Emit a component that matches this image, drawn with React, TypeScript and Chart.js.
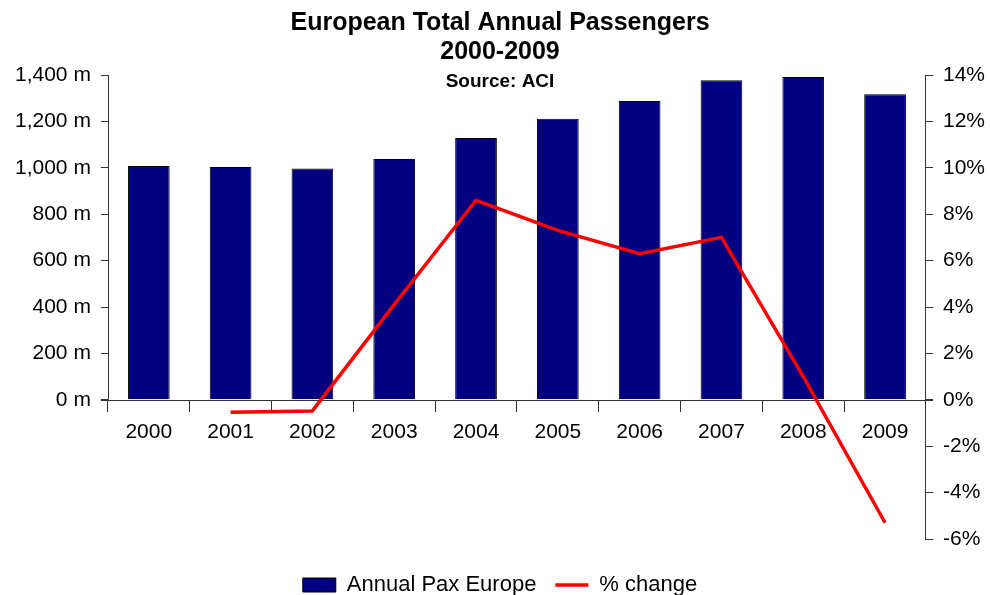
import React, { useEffect, useRef } from 'react';
import { Chart, registerables } from 'chart.js';

Chart.register(...registerables);

const years = ['2000', '2001', '2002', '2003', '2004', '2005', '2006', '2007', '2008', '2009'];
const annualPax = [1008, 1003, 997, 1038, 1128, 1211, 1288, 1377, 1391, 1317];
const pctChange = [null, -0.54, -0.48, 4.1, 8.6, 7.3, 6.3, 7.0, 1.0, -5.3];
const titleLines = ['European Total Annual Passengers', '2000-2009'];
const subtitleText = 'Source: ACI';
const seriesNames = ['Annual Pax Europe', '% change'];

const FONT = '"Liberation Sans", Arial, Helvetica, sans-serif';
const AXIS = '#333333';

const axisLines = {
  id: 'axisLines',
  beforeDatasetsDraw(chart: any) {
    const s = chart.scales.yL;
    const r = chart.scales.yR;
    const ctx = chart.ctx;
    const { left, right } = chart.chartArea;
    const x = Math.round(left) + 0.5;
    const y0 = Math.round(r.getPixelForValue(0)) + 0.5;
    ctx.save();
    ctx.strokeStyle = AXIS;
    ctx.lineWidth = 1;
    ctx.beginPath();
    ctx.moveTo(x, s.getPixelForValue(s.max));
    ctx.lineTo(x, s.getPixelForValue(0));
    ctx.moveTo(left - 7, y0);
    ctx.lineTo(right + 7, y0);
    ctx.stroke();
    ctx.restore();
  },
};

export default function App() {
  const ref = useRef<HTMLCanvasElement | null>(null);

  useEffect(() => {
    if (!ref.current) return;
    Chart.defaults.font.family = FONT;
    Chart.defaults.color = '#000';
    const chart = new Chart(ref.current, {
      data: {
        labels: years,
        datasets: [
          {
            type: 'line',
            label: seriesNames[1],
            data: pctChange,
            yAxisID: 'yR',
            borderColor: '#ff0000',
            backgroundColor: '#ff0000',
            borderWidth: 3.5,
            pointRadius: 0,
            pointHoverRadius: 0,
            tension: 0,
            spanGaps: false,
            order: 0,
          } as any,
          {
            type: 'bar',
            label: seriesNames[0],
            data: annualPax,
            yAxisID: 'yL',
            backgroundColor: '#000080',
            borderColor: '#000000',
            borderWidth: 1,
            barPercentage: 0.51,
            categoryPercentage: 1,
            order: 1,
          } as any,
        ],
      },
      options: {
        animation: false,
        responsive: false,
        maintainAspectRatio: false,
        layout: { padding: { left: 5, right: -5, top: 0, bottom: -11 } },
        plugins: {
          tooltip: { enabled: false },
          title: {
            display: true,
            text: titleLines,
            color: '#000',
            font: { size: 25, weight: 'bold', lineHeight: 29 / 25 },
            padding: { top: 9, bottom: 0 },
          },
          subtitle: {
            display: true,
            text: subtitleText,
            color: '#000',
            font: { size: 19, weight: 'bold', lineHeight: 22 / 19 },
            padding: { top: 4, bottom: -18 },
          },
          legend: {
            position: 'bottom',
            title: { display: true, text: '', padding: { top: 14, bottom: 0 }, font: { size: 2, lineHeight: 1 } },
            labels: {
              usePointStyle: true,
              pointStyleWidth: 33,
              boxHeight: 14,
              padding: 19,
              color: '#000',
              font: { size: 22 },
              generateLabels: (c: any) => {
                const items = Chart.defaults.plugins.legend.labels.generateLabels(c);
                const mapped = items.map((it: any) => {
                  if (it.datasetIndex === 1) {
                    return { ...it, pointStyle: 'rect', fillStyle: '#000080', strokeStyle: '#000', lineWidth: 1 };
                  }
                  return { ...it, pointStyle: 'line', strokeStyle: '#ff0000', lineWidth: 3.5 };
                });
                return [mapped[1], mapped[0]];
              },
            },
          },
        },
        scales: {
          x: {
            type: 'category',
            position: { yR: 0 } as any,
            offset: true,
            grid: {
              display: true,
              offset: true,
              drawOnChartArea: false,
              drawTicks: true,
              tickLength: 12,
              color: AXIS,
            },
            border: { display: false },
            ticks: { font: { size: 21 }, color: '#000', padding: 8, autoSkip: false, maxRotation: 0 },
          },
          yL: {
            type: 'linear',
            position: 'left',
            min: -600,
            max: 1400,
            grid: {
              drawOnChartArea: false,
              tickLength: 7,
              color: (ctx: any) => (ctx.tick && ctx.tick.value < 0 ? 'rgba(0,0,0,0)' : AXIS),
            },
            border: { display: false },
            ticks: {
              stepSize: 200,
              autoSkip: false,
              padding: 10,
              font: { size: 21 },
              color: '#000',
              callback: (v: any) => (Number(v) < 0 ? '' : Number(v).toLocaleString('en-US') + ' m'),
            },
          },
          yR: {
            type: 'linear',
            position: 'right',
            min: -6,
            max: 14,
            grid: { drawOnChartArea: false, tickLength: 7, color: AXIS },
            border: { display: true, color: AXIS, width: 1 },
            ticks: {
              stepSize: 2,
              autoSkip: false,
              padding: 10,
              font: { size: 21 },
              color: '#000',
              callback: (v: any) => v + '%',
            },
          },
        },
      },
      plugins: [axisLines],
    } as any);
    return () => chart.destroy();
  }, []);

  return (
    <div style={{ position: 'fixed', left: 0, top: 0, width: 990, height: 595, background: '#fff' }}>
      <canvas ref={ref} width={990} height={595} style={{ display: 'block', width: 990, height: 595 }} />
    </div>
  );
}
